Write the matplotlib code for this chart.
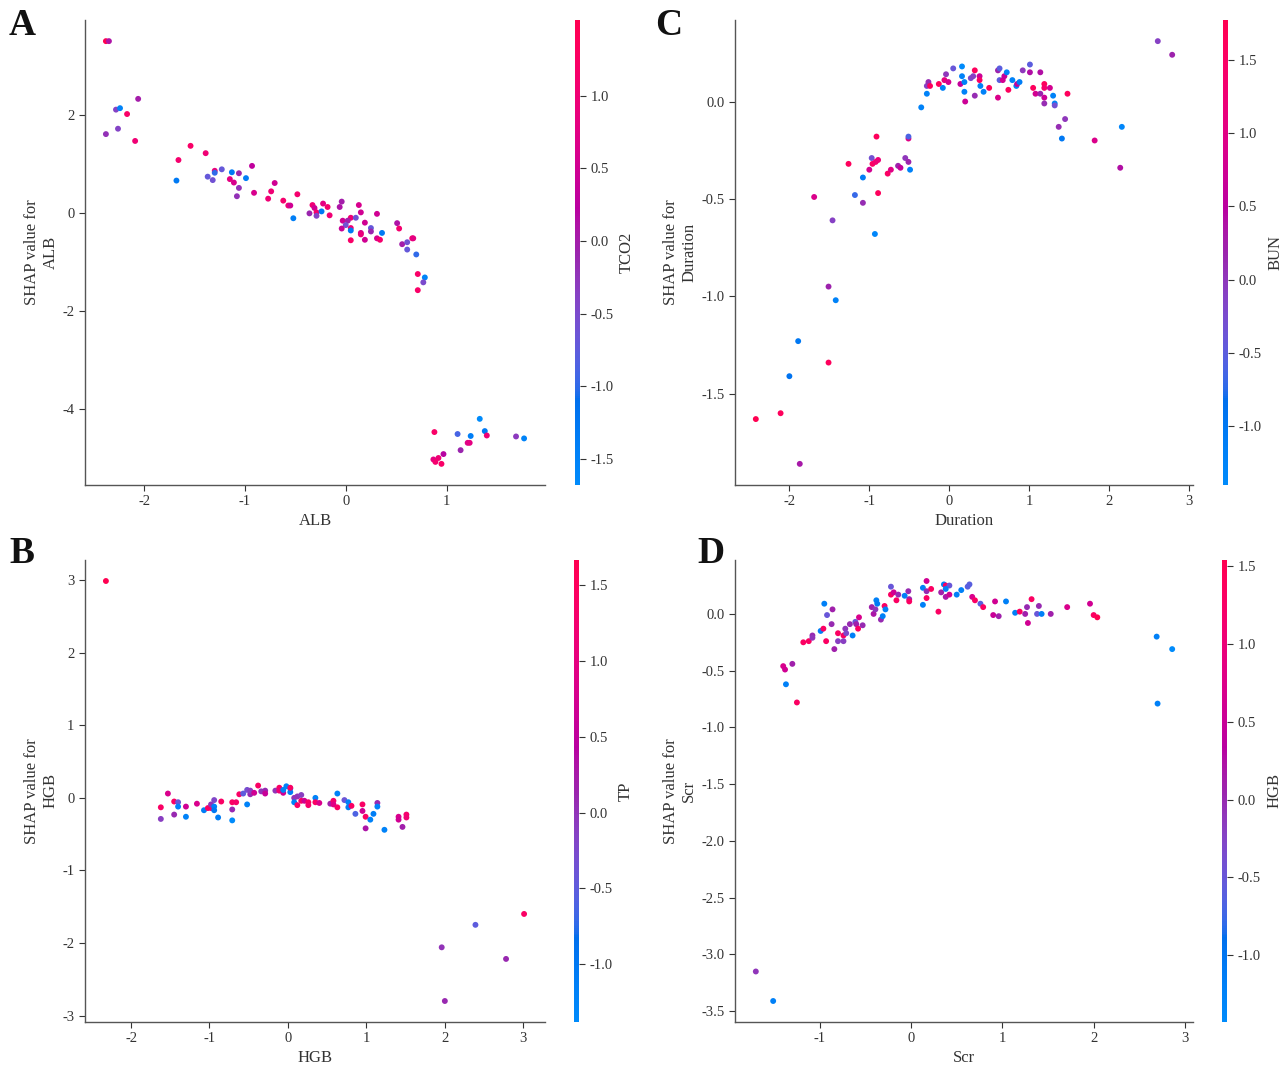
import numpy as np
import matplotlib
matplotlib.use("Agg")
import matplotlib.pyplot as plt
from matplotlib.colors import LinearSegmentedColormap, Normalize
from matplotlib.ticker import MultipleLocator, FormatStrFormatter

plt.rcParams['font.family'] = ['Liberation Serif', 'DejaVu Serif']
plt.rcParams['axes.unicode_minus'] = False

# ---------------- data ----------------
alb_x = [-2.38, -2.35, -2.06, -2.28, -2.24, -2.17, -2.38, -2.26, -2.09, -1.54, -1.66, -1.39, -1.68, -1.30, -1.30,
         -1.37, -1.32, -1.23, -1.13, -1.06, -0.99, -0.93, -1.15, -1.11, -1.06, -1.08, -0.705, -0.91, -0.74, -0.77,
         -0.48, -0.62, -0.57, -0.55, -0.52, -0.36, -0.33, -0.31, -0.29, -0.29, -0.24, -0.225, -0.18, -0.16, -0.06,
         -0.04, -0.03, 0.05, 0.02, 0.00, -0.04, 0.05, 0.05, 0.05, 0.13, 0.15, 0.10, 0.19, 0.15, 0.15,
         0.19, 0.25, 0.25, 0.31, 0.31, 0.34, 0.36, 0.51, 0.53, 0.56, 0.61, 0.66, 0.67, 0.61, 0.70,
         0.715, 0.785, 0.77, 0.715, 0.88, 1.11, 1.33, 1.24, 1.38, 1.40, 1.21, 1.23, 1.14, 0.97, 0.87,
         0.89, 0.92, 0.95, 1.69, 1.77]
alb_shap = [3.51, 3.51, 2.33, 2.11, 2.14, 2.02, 1.61, 1.72, 1.47, 1.37, 1.08, 1.22, 0.66, 0.86, 0.82,
            0.74, 0.67, 0.89, 0.83, 0.81, 0.71, 0.96, 0.69, 0.62, 0.51, 0.34, 0.61, 0.41, 0.44, 0.29,
            0.38, 0.25, 0.15, 0.15, -0.11, -0.01, 0.16, 0.10, 0.01, -0.06, 0.03, 0.19, 0.12, -0.05, 0.12,
            0.23, -0.16, -0.10, -0.16, -0.25, -0.32, -0.31, -0.36, -0.56, 0.16, 0.01, -0.10, -0.20, -0.41, -0.44,
            -0.55, -0.31, -0.38, -0.02, -0.52, -0.55, -0.41, -0.21, -0.32, -0.64, -0.60, -0.52, -0.52, -0.75, -0.85,
            -1.25, -1.32, -1.42, -1.58, -4.48, -4.52, -4.21, -4.56, -4.46, -4.55, -4.70, -4.70, -4.85, -4.93, -5.04,
            -5.09, -5.01, -5.13, -4.57, -4.61]
alb_tco2 = [1.52, 0.1, 0.0, -0.4, -1.5, 1.2, -0.2, -0.4, 1.0, 1.2, 1.1, 1.0, -1.3, 0.9, -1.0,
            -0.7, -0.6, -0.7, -1.3, -0.1, -1.4, 0.3, 0.8, 0.6, -0.2, -0.2, 0.5, 0.6, 1.0, 1.0,
            1.1, 1.1, 1.0, 0.5, -1.4, -0.1, 1.0, 0.5, 1.1, -0.4, -1.3, 0.8, 1.1, 1.0, 0.1,
            0.0, 0.5, 1.0, 0.0, -0.6, 0.4, 1.0, -1.3, 1.2, 0.6, 0.5, -0.6, 0.5, 0.6, 0.9,
            0.5, -0.7, -0.1, 0.5, 0.6, 1.1, -1.3, 0.1, 1.1, 0.0, -0.6, 1.1, 0.8, -0.7, -1.0,
            1.2, -1.5, -0.5, 1.2, 1.2, -0.9, -1.68, -1.4, -1.3, 1.0, 0.7, 0.8, -0.1, 0.2, 0.8,
            1.1, 1.0, 1.2, -0.3, -1.5]

hgb_x = [-2.32, -1.62, -1.62, -1.53, -1.45, -1.40, -1.40, -1.45, -1.30, -1.30, -1.16, -1.07, -1.02, -0.98, -0.98,
         -0.94, -0.94, -0.94, -0.89, -0.85, -0.71, -0.66, -0.71, -0.71, -0.62, -0.57, -0.52, -0.52, -0.48, -0.48,
         -0.43, -0.38, -0.34, -0.29, -0.29, -0.16, -0.11, -0.11, -0.06, -0.06, -0.02, 0.03, 0.03, 0.03, 0.08,
         0.08, 0.12, 0.17, 0.12, 0.17, 0.21, 0.26, 0.26, 0.35, 0.35, 0.40, 0.54, 0.58, 0.58, 0.63,
         0.63, 0.72, 0.77, 0.77, 0.81, 0.86, 0.95, 0.95, 0.99, 0.99, 1.05, 1.09, 1.14, 1.14, 1.23,
         1.41, 1.41, 1.51, 1.51, 1.46, 1.96, 2.00, 2.39, 2.78, 3.01]
hgb_shap = [2.99, -0.13, -0.29, 0.06, -0.05, -0.06, -0.12, -0.23, -0.12, -0.26, -0.08, -0.17, -0.14, -0.14, -0.09,
            -0.03, -0.12, -0.17, -0.27, -0.05, -0.06, -0.06, -0.16, -0.31, 0.05, 0.06, 0.11, -0.09, 0.05, 0.10,
            0.07, 0.17, 0.09, 0.10, 0.06, 0.10, 0.14, 0.10, 0.07, 0.11, 0.16, 0.13, 0.08, 0.14, 0.00,
            -0.06, 0.02, 0.04, -0.10, -0.04, -0.04, -0.06, -0.10, 0.00, -0.06, -0.07, -0.08, -0.04, -0.09, 0.06,
            -0.13, -0.03, -0.06, -0.13, -0.11, -0.22, -0.09, -0.18, -0.26, -0.42, -0.30, -0.22, -0.07, -0.12, -0.44,
            -0.26, -0.30, -0.23, -0.27, -0.40, -2.06, -2.80, -1.75, -2.22, -1.60]
hgb_tp = [1.665, 1.4, -0.1, 0.8, 1.4, -0.4, -1.2, 0.1, 0.7, -1.2, 0.8, -1.1, 1.4, 1.3, 0.0,
          -0.2, -1.2, -1.0, -1.1, 1.4, 1.4, 1.3, 0.1, -1.38, 1.4, -0.5, -0.3, -1.2, 0.1, -0.1,
          0.7, 1.4, 0.0, 0.1, 0.6, 0.0, 1.4, 1.2, 0.7, -1.2, -1.2, -1.2, -1.1, 1.4, 0.0,
          -1.2, 0.0, -0.1, 1.4, 1.4, 0.7, 1.4, 1.3, -1.2, 1.4, 0.8, 0.2, 1.3, 0.9, -1.2,
          1.4, -0.4, -1.2, -1.1, 1.4, -0.6, 1.4, 0.7, 1.4, 0.3, -1.2, -1.1, 0.1, -1.2, -1.2,
          0.8, 0.7, 1.3, 1.2, 0.2, 0.0, 0.1, -0.5, 0.1, 1.4]

dur_x = [-1.69, -1.46, -0.93, -1.18, -1.08, -1.08, -1.26, -0.97, -1.00, -0.96, -0.92, -0.89, -0.91, -0.89, -0.77,
         -0.73, -0.64, -0.61, -0.55, -0.51, -0.49, -0.51, -0.51, -0.35, -0.28, -0.28, -0.26, -0.24, -0.13, -0.08,
         -0.04, -0.06, -0.01, 0.05, 0.16, 0.16, 0.14, 0.19, 0.19, 0.20, 0.27, 0.30, 0.32, 0.32, 0.38,
         0.38, 0.39, 0.43, 0.50, 0.61, 0.63, 0.63, 0.61, 0.67, 0.69, 0.72, 0.74, 0.79, 0.84, 0.85,
         0.88, 0.92, 1.01, 1.01, 1.05, 1.08, 1.14, 1.14, 1.19, 1.19, 1.19, 1.19, 1.26, 1.30, 1.32,
         1.32, 1.48, 1.45, 1.37, 1.41, 1.82, 2.16, 2.14, 2.61, 2.79, -1.51, -1.42, -1.89, -1.51, -2.00,
         -2.11, -2.42, -1.87]
dur_shap = [-0.49, -0.61, -0.68, -0.48, -0.52, -0.39, -0.32, -0.29, -0.35, -0.32, -0.31, -0.30, -0.18, -0.47, -0.37,
            -0.35, -0.33, -0.34, -0.29, -0.31, -0.35, -0.19, -0.18, -0.03, 0.04, 0.08, 0.10, 0.08, 0.09, 0.07,
            0.14, 0.11, 0.10, 0.17, 0.18, 0.13, 0.09, 0.10, 0.05, 0.00, 0.12, 0.13, 0.16, 0.03, 0.13,
            0.11, 0.08, 0.05, 0.07, 0.16, 0.17, 0.11, 0.02, 0.11, 0.13, 0.15, 0.06, 0.11, 0.08, 0.09,
            0.10, 0.16, 0.19, 0.15, 0.07, 0.04, 0.15, 0.04, 0.09, 0.07, 0.02, -0.01, 0.07, 0.03, -0.01,
            -0.02, 0.04, -0.09, -0.13, -0.19, -0.20, -0.13, -0.34, 0.31, 0.24, -0.95, -1.02, -1.23, -1.34, -1.41,
            -1.60, -1.63, -1.86]
dur_bun = [0.9, -0.1, -1.3, -0.7, 0.1, -1.1, 1.6, -0.3, 0.8, 1.5, 1.3, 1.2, 1.6, 1.6, 1.5,
           1.0, 0.2, 0.6, 0.0, 0.2, -1.2, 1.0, -0.6, -1.2, -1.2, -0.1, 0.1, 1.6, 1.6, -1.2,
           0.0, 1.1, 0.8, -0.4, -1.40, -1.2, 0.6, -1.2, -1.2, 0.7, -0.2, -0.1, 1.6, 0.1, 0.7,
           1.5, -1.2, -1.2, 1.6, 0.2, -0.5, -0.5, 0.9, 0.8, 0.6, -1.2, 1.6, -1.2, -1.2, 0.6,
           -1.1, 0.0, -0.5, 0.4, 1.6, 0.8, 0.4, 0.2, 1.6, 1.4, 0.7, 0.1, 0.8, -1.2, -1.2,
           -0.3, 1.6, 0.0, 0.1, -1.0, 0.9, -1.3, 0.4, -0.1, 0.2, 0.2, -1.2, -1.0, 1.6, -0.9,
           1.6, 1.77, 0.3]

scr_x = [-1.40, -1.38, -1.30, -1.37, -1.25, -1.18, -1.12, -1.08, -1.08, -0.99, -0.96, -0.95, -0.92, -0.86, -0.87,
         -0.93, -0.84, -0.80, -0.80, -0.74, -0.74, -0.72, -0.71, -0.67, -0.64, -0.61, -0.60, -0.57, -0.58, -0.53,
         -0.43, -0.41, -0.39, -0.38, -0.37, -0.33, -0.31, -0.29, -0.28, -0.22, -0.22, -0.19, -0.14, -0.16, -0.07,
         -0.03, -0.02, -0.02, 0.13, 0.13, 0.17, 0.17, 0.17, 0.22, 0.30, 0.33, 0.36, 0.38, 0.42, 0.38,
         0.38, 0.42, 0.50, 0.55, 0.62, 0.64, 0.67, 0.70, 0.76, 0.79, 0.92, 0.90, 0.96, 1.04, 1.14,
         1.19, 1.25, 1.27, 1.32, 1.28, 1.38, 1.40, 1.43, 1.53, 1.71, 1.96, 2.00, 2.04, 2.69, 2.86,
         2.70, -1.70, -1.51]
scr_shap = [-0.46, -0.49, -0.44, -0.62, -0.78, -0.25, -0.24, -0.19, -0.21, -0.15, -0.13, 0.09, -0.01, 0.04, -0.09,
            -0.24, -0.31, -0.17, -0.24, -0.19, -0.24, -0.13, -0.17, -0.09, -0.19, -0.07, -0.09, -0.03, -0.13, -0.10,
            0.06, 0.00, 0.04, 0.12, 0.09, -0.05, -0.02, 0.07, 0.04, 0.24, 0.17, 0.19, 0.17, 0.12, 0.16,
            0.20, 0.13, 0.11, 0.23, 0.08, 0.29, 0.20, 0.14, 0.22, 0.02, 0.19, 0.26, 0.25, 0.25, 0.22,
            0.15, 0.17, 0.17, 0.21, 0.24, 0.26, 0.15, 0.12, 0.09, 0.06, 0.11, -0.01, -0.02, 0.11, 0.01,
            0.02, 0.00, 0.06, 0.13, -0.08, 0.00, 0.07, 0.00, 0.00, 0.06, 0.09, -0.01, -0.03, -0.20, -0.31,
            -0.79, -3.15, -3.41]
scr_hgb = [0.7, 0.6, 0.1, -1.2, 1.3, 1.3, 1.3, 0.0, -0.1, -1.2, 1.3, -1.2, -0.5, 0.1, 0.0,
           1.3, 0.1, 1.3, -0.2, 1.3, -0.2, -0.1, -0.3, 0.0, -1.2, -0.5, 0.1, 0.7, 1.3, 0.0,
           0.1, 0.2, -0.1, -1.2, -1.1, 0.0, -1.2, 1.3, -1.2, -0.5, 1.3, 0.6, 0.0, 1.3, -1.2,
           0.0, 0.1, 1.3, -1.2, -1.2, 0.6, 0.0, 1.3, 1.3, 1.3, 0.1, -1.2, 1.3, -0.5, -1.2,
           0.2, 0.6, -1.2, -1.2, -0.6, -0.6, 0.7, 1.3, -0.6, 1.3, 0.6, 0.5, 0.1, -1.2, -1.2,
           1.3, 0.1, 0.0, 1.3, 0.6, -0.5, 0.0, -1.2, 0.1, 0.7, 0.6, 1.3, 1.54, -1.2, -1.43,
           -1.2, -0.1, -1.2]

panels = [
    ("A", "ALB", "TCO2", alb_x, alb_shap, alb_tco2, (85, 20, 460, 465), 575, 1, 2, "%d",
     [-1.5, -1.0, -0.5, 0.0, 0.5, 1.0]),
    ("C", "Duration", "BUN", dur_x, dur_shap, dur_bun, (735, 20, 458, 465), 1223, 1, 0.5, "%.1f",
     [-1.0, -0.5, 0.0, 0.5, 1.0, 1.5]),
    ("B", "HGB", "TP", hgb_x, hgb_shap, hgb_tp, (85, 560, 460, 462), 574, 1, 1, "%d",
     [-1.0, -0.5, 0.0, 0.5, 1.0, 1.5]),
    ("D", "Scr", "HGB", scr_x, scr_shap, scr_hgb, (735, 560, 458, 462), 1222, 1, 0.5, "%.1f",
     [-1.0, -0.5, 0.0, 0.5, 1.0, 1.5]),
]

letter_pos = {"A": (9, 8), "C": (655, 8), "B": (9, 536), "D": (697, 536)}

# ---------------- SHAP red_blue colormap (LCH interpolation) ----------------
def lch2rgb(l, c, h):
    a = c * np.cos(h)
    b = c * np.sin(h)
    fy = (l + 16.0) / 116.0
    fx = fy + a / 500.0
    fz = fy - b / 200.0
    def finv(f):
        return f ** 3 if f ** 3 > 0.008856 else (f - 16.0 / 116.0) / 7.787
    X = 0.95047 * finv(fx)
    Y = 1.0 * finv(fy)
    Z = 1.08883 * finv(fz)
    M = np.array([[3.2404542, -1.5371385, -0.4985314],
                  [-0.9692660, 1.8760108, 0.0415560],
                  [0.0556434, -0.2040259, 1.0572252]])
    rgb = M @ np.array([X, Y, Z])
    out = []
    for v in rgb:
        v = 1.055 * (v ** (1 / 2.4)) - 0.055 if v > 0.0031308 else 12.92 * v
        out.append(min(max(v, 0.0), 1.0))
    return out

blue_lch = [54., 70., 4.6588]
red_lch = [54., 90., 0.35470565 + 2 * np.pi]
l_mid = 40.
nsteps = 100
l_vals = list(np.linspace(blue_lch[0], l_mid, nsteps // 2)) + list(np.linspace(l_mid, red_lch[0], nsteps // 2))
c_vals = np.linspace(blue_lch[1], red_lch[1], nsteps)
h_vals = np.linspace(blue_lch[2], red_lch[2], nsteps)
cols = [lch2rgb(l, c, h) for l, c, h in zip(l_vals, c_vals, h_vals)]
red_blue = LinearSegmentedColormap.from_list("red_blue", cols)

# ---------------- figure ----------------
W, H = 1286, 1068
fig = plt.figure(figsize=(W / 100, H / 100), dpi=100)
txt = "#333333"

for letter, feat, cfeat, xs, ys, cs, (l, t, w, h), cl, xstep, ystep, yfmt, cticks in panels:
    ax = fig.add_axes([l / W, 1 - (t + h) / H, w / W, h / H])
    norm = Normalize(vmin=min(cs), vmax=max(cs))
    sc = ax.scatter(xs, ys, c=cs, cmap=red_blue, norm=norm, s=18, linewidths=0)
    ax.spines['top'].set_visible(False)
    ax.spines['right'].set_visible(False)
    for sp in ("left", "bottom"):
        ax.spines[sp].set_color("#555555")
        ax.spines[sp].set_linewidth(1.0)
    ax.xaxis.set_major_locator(MultipleLocator(xstep))
    ax.yaxis.set_major_locator(MultipleLocator(ystep))
    ax.yaxis.set_major_formatter(FormatStrFormatter(yfmt))
    ax.tick_params(axis='both', labelsize=10.5, colors=txt, length=4, width=0.8)
    ax.set_xlabel(feat, fontsize=12, color=txt, labelpad=3)
    ax.set_ylabel("SHAP value for\n" + feat, fontsize=12, color=txt, labelpad=3)

    cax = fig.add_axes([cl / W, 1 - (t + h) / H, 5 / W, h / H])
    cb = fig.colorbar(sc, cax=cax, ticks=cticks)
    cb.outline.set_visible(False)
    cb.ax.yaxis.set_major_formatter(FormatStrFormatter("%.1f"))
    cb.ax.tick_params(labelsize=10.5, colors=txt, length=4, width=0.8)
    cb.set_label(cfeat, fontsize=12, color=txt, labelpad=4)

    lx, ly = letter_pos[letter]
    fig.text(lx / W, 1 - ly / H, letter, fontsize=27, fontweight='bold', color='#111111',
             va='top', ha='left')

fig.savefig("out.png", dpi=100)
